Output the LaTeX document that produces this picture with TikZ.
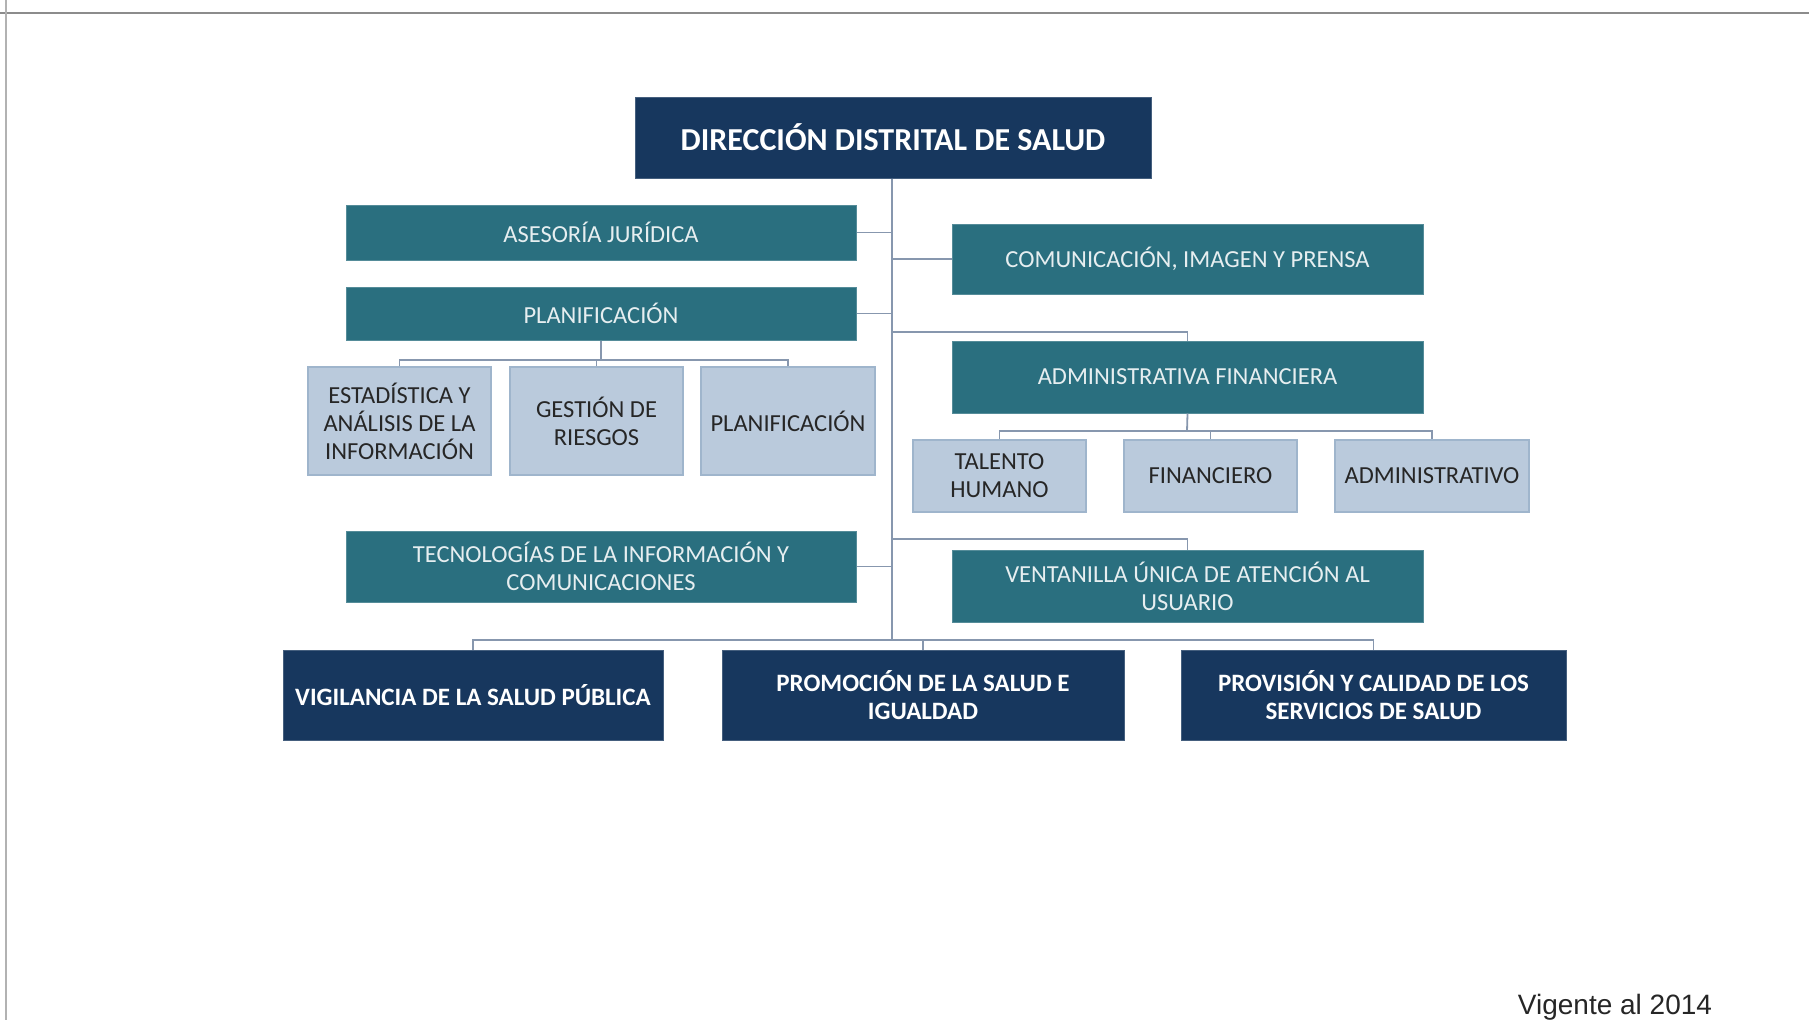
\documentclass[tikz,border=0pt]{standalone}
\usepackage{fontspec}
\newfontfamily\carl{Carlito}
\setsansfont{Liberation Sans}
\definecolor{navy}{HTML}{17375E}
\definecolor{teal2}{HTML}{2A6F7F}
\definecolor{lightb}{HTML}{BACADC}
\definecolor{lightbd}{HTML}{9FB5CC}
\definecolor{conn}{HTML}{8797AE}
\definecolor{tealtxt}{HTML}{E6EEF0}
\begin{document}
\begin{tikzpicture}[x=1pt,y=-1pt,
  navybox/.style={fill=navy,draw=navy!80!white,line width=1pt,text=white,font=\carl\bfseries\fontsize{25}{28}\selectfont,align=center,inner sep=0pt},
  tealbox/.style={fill=teal2,draw=teal2!80!white,line width=1pt,text=tealtxt,font=\carl\fontsize{24.5}{28}\selectfont,align=center,inner sep=0pt},
  subbox/.style={fill=lightb,draw=lightbd,line width=1.2pt,text=black!85,font=\carl\fontsize{24.5}{28}\selectfont,align=center,inner sep=0pt},
  link/.style={draw=conn,line width=1.8pt}]
\useasboundingbox (0,0) rectangle (1809,1020);
% frame
\draw[gray!90,line width=2.5pt] (0,13) -- (1809,13);
\draw[gray!60,line width=2pt] (6,0) -- (6,1020);

\node[navybox,minimum width=516,minimum height=81,font=\carl\bfseries\fontsize{32}{36}\selectfont] (top) at (893,137.5) {DIRECCIÓN DISTRITAL DE SALUD};

\node[tealbox,minimum width=510,minimum height=55] (ases) at (601,232.5) {ASESORÍA JURÍDICA};
\node[tealbox,minimum width=510,minimum height=53] (plan) at (601,313.5) {PLANIFICACIÓN};
\node[subbox,minimum width=183,minimum height=108] (est) at (399.5,421) {ESTADÍSTICA Y\\ANÁLISIS DE LA\\INFORMACIÓN};
\node[subbox,minimum width=173,minimum height=108] (ges) at (596.5,421) {GESTIÓN DE\\RIESGOS};
\node[subbox,minimum width=174,minimum height=108] (pls) at (788,421) {PLANIFICACIÓN};
\node[tealbox,minimum width=510,minimum height=71] (tec) at (601,566.5) {TECNOLOGÍAS DE LA INFORMACIÓN Y\\COMUNICACIONES};

\node[tealbox,minimum width=471,minimum height=70] (com) at (1187.5,259) {COMUNICACIÓN, IMAGEN Y PRENSA};
\node[tealbox,minimum width=471,minimum height=72] (adm) at (1187.5,377) {ADMINISTRATIVA FINANCIERA};
\node[subbox,minimum width=173,minimum height=72] (tal) at (999.5,476) {TALENTO\\HUMANO};
\node[subbox,minimum width=173,minimum height=72] (fin) at (1210.5,476) {FINANCIERO};
\node[subbox,minimum width=194,minimum height=72] (ad2) at (1432,476) {ADMINISTRATIVO};
\node[tealbox,minimum width=471,minimum height=72] (ven) at (1187.5,586) {VENTANILLA ÚNICA DE ATENCIÓN AL\\USUARIO};

\node[navybox,minimum width=380,minimum height=90] (vig) at (473,695) {VIGILANCIA DE LA SALUD PÚBLICA};
\node[navybox,minimum width=402,minimum height=90] (prom) at (923,695) {PROMOCIÓN DE LA SALUD E\\IGUALDAD};
\node[navybox,minimum width=385,minimum height=90] (prov) at (1373.5,695) {PROVISIÓN Y CALIDAD DE LOS\\SERVICIOS DE SALUD};

\node[font=\sffamily\fontsize{28}{32}\selectfont,anchor=base,text=black!85] (vigente) at (1615,1014) {Vigente al 2014};

% connectors
\coordinate (bbus) at (892,640);
\coordinate (jadm) at (892,332);
\coordinate (jven) at (892,539);
\coordinate (pbus) at (601,360);
\coordinate (abus) at (1187,431);
\draw[link] (top.south -| bbus) -- (bbus);
\draw[link] (ases.east) -- (ases.east -| bbus);
\draw[link] (plan.east) -- (plan.east -| bbus);
\draw[link] (tec.east) -- (tec.east -| bbus);
\draw[link] (com.west) -- (com.west -| bbus);
\draw[link] (jadm) -| (adm.north);
\draw[link] (jven) -| (ven.north);
\draw[link] (plan.south) -- (pbus);
\draw[link] (est.north) |- (pbus) -| (pls.north);
\draw[link] (ges.north) -- (ges.north |- pbus);
\draw[link] (adm.south) -- (abus);
\draw[link] (tal.north) |- (abus) -| (ad2.north);
\draw[link] (fin.north) -- (fin.north |- abus);
\draw[link] (vig.north) |- (bbus) -| (prov.north);
\draw[link] (prom.north) -- (prom.north |- bbus);
\end{tikzpicture}
\end{document}
